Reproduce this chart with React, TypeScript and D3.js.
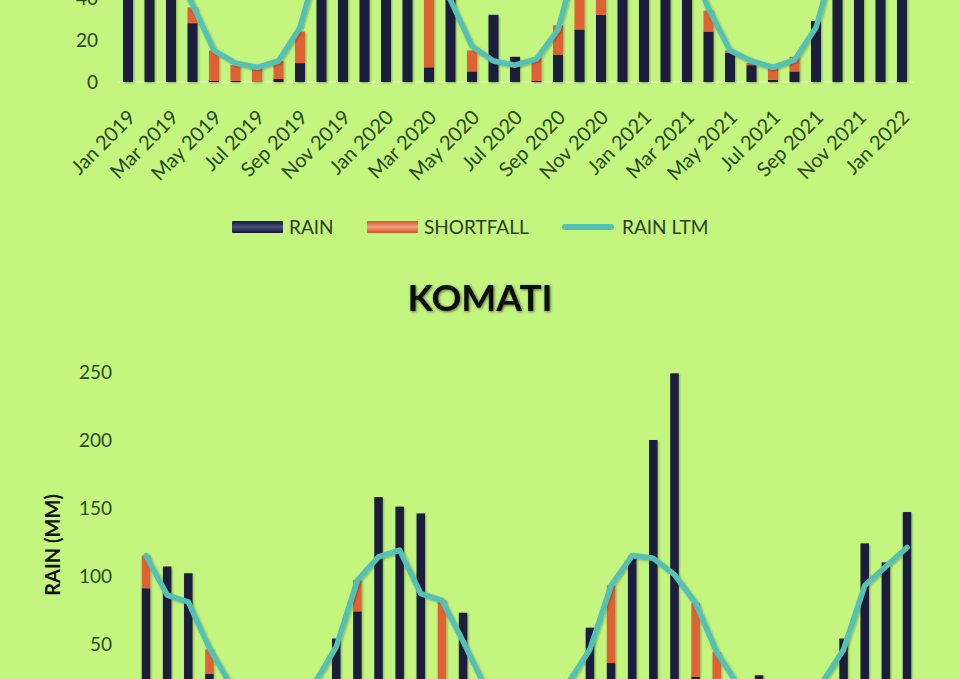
import React from 'react';
import * as d3 from 'd3';

const MONTHS = [
  'Jan 2019', 'Feb 2019', 'Mar 2019', 'Apr 2019', 'May 2019', 'Jun 2019', 'Jul 2019', 'Aug 2019', 'Sep 2019', 'Oct 2019', 'Nov 2019', 'Dec 2019',
  'Jan 2020', 'Feb 2020', 'Mar 2020', 'Apr 2020', 'May 2020', 'Jun 2020', 'Jul 2020', 'Aug 2020', 'Sep 2020', 'Oct 2020', 'Nov 2020', 'Dec 2020',
  'Jan 2021', 'Feb 2021', 'Mar 2021', 'Apr 2021', 'May 2021', 'Jun 2021', 'Jul 2021', 'Aug 2021', 'Sep 2021', 'Oct 2021', 'Nov 2021', 'Dec 2021',
  'Jan 2022'
];

// upper chart (only its lower part is on the page)
const TOP_RAIN = [95, 88, 70, 28, 0.5, 0.5, 0, 1.5, 9, 70, 110, 130, 140, 100, 7, 45, 5, 32, 12, 0.5, 13, 25, 32, 150, 160, 120, 90, 24, 14, 8, 1, 5, 29, 80, 120, 130, 140];
const TOP_SHORTFALL = [0, 0, 0, 7.5, 14.5, 7.5, 7, 8.5, 15, 0, 0, 0, 0, 0, 58, 0, 10, 0, 0, 11, 14, 35, 68, 0, 0, 0, 0, 10, 1, 1, 6, 7, 0, 0, 0, 0, 0];
const TOP_LTM = [120, 85, 55, 37, 15, 9, 7, 10, 26, 62, 100, 115, 120, 85, 60, 39, 17, 10, 8, 11, 25, 62, 100, 115, 120, 85, 60, 35, 15, 10, 7, 10.5, 26, 62, 100, 115, 120];

// KOMATI
const KOMATI_RAIN = [91, 107, 102, 28, 8, 3, 2, 5, 15, 54, 74, 158, 151, 146, 10, 73, 6, 10, 4, 2, 12, 62, 36, 113, 200, 249, 26, 22, 5, 27, 3, 4, 12, 54, 124, 110, 147];
const KOMATI_SHORTFALL = [24, 0, 0, 18, 12, 9, 8, 7, 7, 0, 23, 0, 0, 0, 72, 0, 14, 2, 6, 10, 10, 0, 57, 2, 0, 0, 54, 22, 15, 0, 7, 8, 10, 0, 0, 0, 0];
const KOMATI_LTM = [115, 86, 81, 47, 20, 12, 10, 12, 22, 48, 97, 114, 119, 87, 82, 52, 20, 12, 10, 12, 22, 46, 93, 115, 113, 101, 80, 44, 20, 12, 10, 12, 22, 46, 93, 107, 121];

// only the ticks that fall on the page
const Y_TICKS_TOP = [0, 20, 40];
const Y_TICKS_KOMATI = [50, 100, 150, 200, 250];

const BG = '#c4f57f';
const RAIN_COLOR = '#1d1f3d';
const SHORT_COLOR = '#df6236';
const LTM_COLOR = '#55c1b4';
const TICK_COLOR = '#284a1c';
const FONT = 'Lato, "Open Sans", sans-serif';

type ChartProps = {
  rain: number[];
  shortfall: number[];
  ltm: number[];
  x: d3.ScalePoint<string>;
  y: d3.ScaleLinear<number, number>;
  ticks: number[];
  tickX: number;
  barWidth: number;
  lineStart: number;
  lineEnd: number;
  showMonths: boolean;
};

const RainChart = ({ rain, shortfall, ltm, x, y, ticks, tickX, barWidth, lineStart, lineEnd, showMonths }: ChartProps) => {
  const base = y(0);
  const line = d3.line<number>()
    .x((_, i) => x(MONTHS[i]) as number)
    .y(d => y(d));

  return (
    <g>
      {ticks.map(t => (
        <text key={t} x={tickX} y={y(t)} dy="0.35em" textAnchor="end"
          fontSize={19} fill={TICK_COLOR} fontFamily={FONT}>{t}</text>
      ))}
      <line x1={lineStart} x2={lineEnd} y1={base} y2={base} stroke="#e4f6cc" strokeWidth={1.2} />
      <g filter="url(#barShadow)">
        {MONTHS.map((m, i) => {
          const cx = x(m) as number;
          return (
            <g key={m}>
              <rect x={cx - barWidth / 2} y={y(rain[i])} width={barWidth}
                height={base - y(rain[i])} fill={RAIN_COLOR} />
              {shortfall[i] > 0 && (
                <rect x={cx - barWidth / 2} y={y(rain[i] + shortfall[i])} width={barWidth}
                  height={y(rain[i]) - y(rain[i] + shortfall[i])} fill={SHORT_COLOR} />
              )}
            </g>
          );
        })}
      </g>
      <path d={line(ltm) || ''} fill="none" stroke={LTM_COLOR} strokeWidth={5.5}
        strokeLinejoin="round" strokeLinecap="round" filter="url(#barShadow)" />
      {showMonths && MONTHS.map((m, i) => i % 2 === 0 && (
        <text key={m} transform={`translate(${(x(m) as number) + 3},${base + 31}) rotate(-45)`}
          textAnchor="end" dominantBaseline="central" fontSize={20}
          fill={TICK_COLOR} fontFamily={FONT}>{m}</text>
      ))}
    </g>
  );
};

const App = () => {
  const width = 960;
  const height = 679;

  const xTop = d3.scalePoint<string>().domain(MONTHS).range([128, 902]);
  const yTop = d3.scaleLinear().domain([0, 200]).range([82, 82 - 420]);

  const xKomati = d3.scalePoint<string>().domain(MONTHS).range([146, 907]);
  const yKomati = d3.scaleLinear().domain([0, 250]).range([712, 372]);

  const legendY = 227;

  return (
    <svg width={width} height={height}
      style={{ position: 'absolute', left: 0, top: 0, display: 'block' }}>
      <defs>
        <filter id="barShadow" x="-50%" y="-10%" width="200%" height="120%">
          <feDropShadow dx="1" dy="1" stdDeviation="1" floodColor="#000" floodOpacity="0.3" />
        </filter>
        <filter id="titleShadow" x="-20%" y="-40%" width="140%" height="180%">
          <feDropShadow dx="1" dy="1" stdDeviation="1.8" floodColor="#000" floodOpacity="0.55" />
        </filter>
        <linearGradient id="rainSwatch" x1="0" x2="0" y1="0" y2="1">
          <stop offset="0" stopColor="#15172e" />
          <stop offset="0.5" stopColor="#4a5080" />
          <stop offset="1" stopColor="#15172e" />
        </linearGradient>
        <linearGradient id="shortSwatch" x1="0" x2="0" y1="0" y2="1">
          <stop offset="0" stopColor="#d0532a" />
          <stop offset="0.5" stopColor="#f4a07e" />
          <stop offset="1" stopColor="#d0532a" />
        </linearGradient>
      </defs>
      <rect width={width} height={height} fill={BG} />

      <RainChart rain={TOP_RAIN} shortfall={TOP_SHORTFALL} ltm={TOP_LTM}
        x={xTop} y={yTop} ticks={Y_TICKS_TOP} tickX={98} barWidth={10}
        lineStart={118} lineEnd={914} showMonths={true} />

      {/* legend */}
      <g fontFamily={FONT} fontSize={19} fill="#2f3b28">
        <rect x={232} y={legendY - 6} width={51} height={12} fill="url(#rainSwatch)" rx={1} />
        <text x={289} y={legendY} dy="0.35em">RAIN</text>
        <rect x={367} y={legendY - 6} width={51} height={12} fill="url(#shortSwatch)" rx={1} />
        <text x={424} y={legendY} dy="0.35em">SHORTFALL</text>
        <line x1={565} x2={611} y1={legendY} y2={legendY} stroke={LTM_COLOR} strokeWidth={6} strokeLinecap="round" />
        <text x={622} y={legendY} dy="0.35em">RAIN LTM</text>
      </g>

      <text x={480} y={298} dy="0.35em" textAnchor="middle" fontFamily={FONT}
        fontWeight="bold" fontSize={37} fill="#0c0c0c" filter="url(#titleShadow)">KOMATI</text>

      <text transform={`translate(53,545) rotate(-90)`} textAnchor="middle" dy="0.35em"
        fontFamily={FONT} fontWeight="bold" fontSize={20} fill="#111">RAIN (MM)</text>

      <RainChart rain={KOMATI_RAIN} shortfall={KOMATI_SHORTFALL} ltm={KOMATI_LTM}
        x={xKomati} y={yKomati} ticks={Y_TICKS_KOMATI} tickX={112} barWidth={8.5}
        lineStart={135} lineEnd={918} showMonths={false} />
    </svg>
  );
};

export default App;
